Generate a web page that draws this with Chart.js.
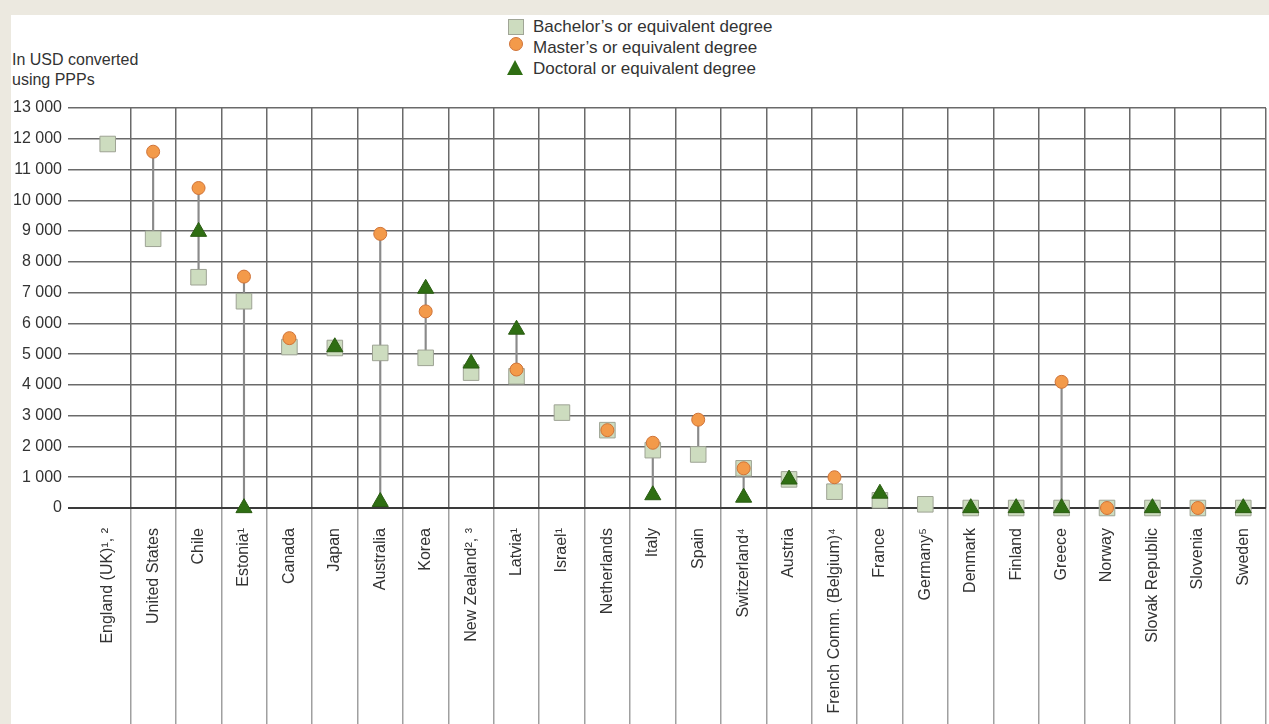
<!DOCTYPE html>
<html>
<head>
<meta charset="utf-8">
<script src="https://cdn.jsdelivr.net/npm/chart.js@4.4.1/dist/chart.umd.min.js"></script>
<style>
  html, body { margin: 0; padding: 0; overflow: hidden; }
  body { width: 1269px; height: 724px; background: #ece9e0; position: relative; font-family: "Liberation Sans", Arial, sans-serif; color: #333; }
  #panel { position: absolute; left: 11px; top: 15px; width: 1300px; height: 720px; background: #fff; }
  #wrap { position: absolute; left: 11px; top: 15px; width: 1267px; height: 709px; }
  #ytitle { position: absolute; left: 12px; top: 50px; font-size: 16px; line-height: 20px; color: #333; }
  #legend { position: absolute; left: 506px; top: 16px; font-size: 17px; line-height: 21px; color: #333; }
  #legend div { position: relative; padding-left: 27px; white-space: nowrap; }
  .sq { position: absolute; left: 2px; top: 3px; width: 14px; height: 14px; background: #cddcbf; border: 1px solid #a0a596; }
  .ci { position: absolute; left: 3px; top: 0px; width: 12px; height: 12px; border-radius: 50%; background: #f39a4a; border: 1px solid #d0743a; }
  .tr { position: absolute; left: 1px; top: 2px; width: 0; height: 0; border-left: 8px solid transparent; border-right: 8px solid transparent; border-bottom: 15px solid #2f6e13; }
</style>
</head>
<body>
<div id="panel"></div>
<div id="ytitle">In USD converted<br>using PPPs</div>
<div id="legend">
  <div><span class="sq"></span>Bachelor’s or equivalent degree</div>
  <div><span class="ci"></span>Master’s or equivalent degree</div>
  <div><span class="tr"></span>Doctoral or equivalent degree</div>
</div>
<div id="wrap"><canvas id="chart" width="1267" height="709"></canvas></div>
<script>
const countries = ['England (UK)¹, ²', 'United States', 'Chile', 'Estonia¹', 'Canada', 'Japan', 'Australia', 'Korea',
  'New Zealand², ³', 'Latvia¹', 'Israel¹', 'Netherlands', 'Italy', 'Spain', 'Switzerland⁴', 'Austria',
  'French Comm. (Belgium)⁴', 'France', 'Germany⁵', 'Denmark', 'Finland', 'Greece', 'Norway', 'Slovak Republic',
  'Slovenia', 'Sweden']

const bachelor = [11830, 8750, 7500, 6720, 5230, 5200, 5040, 4880, 4400, 4280, 3100, 2530, 1880, 1740, 1290, 930,
  530, 250, 120, 0, 0, 0, 0, 0, 0, 0]
const master = [null, 11580, 10400, 7520, 5520, null, 8910, 6390, null, 4500, null, 2530, 2120, 2870, 1290, null,
  1000, null, null, null, null, 4100, 0, null, 0, null]
const doctoral = [null, null, 8980, 0, null, 5230, 200, 7130, 4700, 5800, null, null, 420, null, 340, 930,
  null, 470, null, 0, 0, 0, null, 0, null, 0]

const yTicks = [0, 1000, 2000, 3000, 4000, 5000, 6000, 7000, 8000, 9000, 10000, 11000, 12000, 13000]

// vertical line from lowest to highest value of each country
const connectors = countries.map((c, i) => {
  const vals = [bachelor[i], master[i], doctoral[i]].filter((v) => v !== null)
  const lo = Math.min(...vals)
  const hi = Math.max(...vals)
  return vals.length > 1 && hi > lo ? [lo, hi] : null
})

const fmt = (v) => String(v).replace(/\B(?=(\d{3})+(?!\d))/g, ' ')
const font = { family: '"Liberation Sans", Arial, sans-serif', size: 16 }
// no divider on the left edge of the first country
const vLine = (col) => (ctx) => (ctx.index === 0 ? 'rgba(0,0,0,0)' : col)

new Chart(document.getElementById('chart'), {
  type: 'line',
  data: {
    labels: countries,
    datasets: [
      {
        label: 'Doctoral or equivalent degree',
        data: doctoral,
        showLine: false,
        clip: false,
        pointStyle: 'triangle',
        pointRadius: 9.3,
        backgroundColor: '#2f6e13',
        borderColor: '#2a5c12',
        borderWidth: 1,
        order: 0,
      },
      {
        label: 'Master’s or equivalent degree',
        data: master,
        showLine: false,
        clip: false,
        pointStyle: 'circle',
        pointRadius: 6.5,
        backgroundColor: '#f39a4a',
        borderColor: '#cf7338',
        borderWidth: 1,
        order: 1,
      },
      {
        label: 'Bachelor’s or equivalent degree',
        data: bachelor,
        showLine: false,
        clip: false,
        pointStyle: 'rect',
        pointRadius: 11,
        backgroundColor: '#cddcbf',
        borderColor: '#9ea394',
        borderWidth: 1,
        order: 2,
      },
      {
        type: 'bar',
        label: 'range',
        data: connectors,
        backgroundColor: '#8a8a8a',
        barThickness: 1.5,
        order: 3,
      },
    ],
  },
  options: {
    responsive: false,
    animation: false,
    events: [],
    layout: { padding: { top: 93, left: 0, right: 0, bottom: 0 } },
    plugins: {
      legend: { display: false },
      tooltip: { enabled: false },
    },
    scales: {
      x: {
        type: 'category',
        offset: true,
        afterFit: (scale) => { scale.height = 216 },
        border: { display: false },
        grid: {
          offset: true,
          color: vLine('#6a6a6a'),
          tickColor: vLine('#a0a0a0'),
          lineWidth: 1.5,
          tickLength: 216,
        },
        ticks: {
          autoSkip: false,
          minRotation: 90,
          maxRotation: 90,
          padding: -196,
          color: '#333',
          font: font,
        },
      },
      y: {
        min: 0,
        max: 13000,
        afterFit: (scale) => { scale.width = 74 },
        afterBuildTicks: (scale) => { scale.ticks = yTicks.map((v) => ({ value: v })) },
        border: { display: false },
        grid: {
          color: (ctx) => (ctx.tick && ctx.tick.value === 0 ? '#3a3a3a' : '#6a6a6a'),
          lineWidth: (ctx) => (ctx.tick && ctx.tick.value === 0 ? 2 : 1.5),
          tickLength: 17,
        },
        ticks: {
          padding: 6,
          color: '#333',
          font: font,
          callback: (v) => fmt(v),
        },
      },
    },
  },
})
</script>
</body>
</html>
